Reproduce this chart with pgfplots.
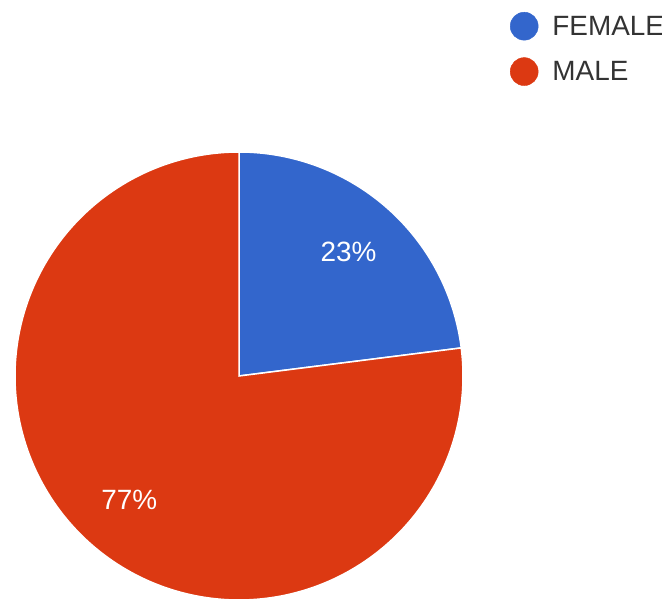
\documentclass[border=0pt]{standalone}
\usepackage{pgfplots}
\pgfplotsset{compat=1.18}
\usepackage{fontspec}
\setmainfont{Liberation Sans}
\definecolor{gblue}{HTML}{3366CC}
\definecolor{gred}{HTML}{DC3912}
\definecolor{gtext}{HTML}{333333}
\def\Female{23}
\def\Male{77}
\begin{document}
\begin{tikzpicture}
\pgfmathsetmacro\cx{239}
\pgfmathsetmacro\cy{223}
\pgfmathsetmacro\R{224}
\pgfmathsetmacro\aA{90}
\pgfmathsetmacro\aB{90-\Female*3.6}
\pgfmathsetmacro\aC{\aB-\Male*3.6}
\pgfmathsetmacro\mA{(\aA+\aB)/2}
\pgfmathsetmacro\mB{(\aB+\aC)/2}
\pgfmathsetmacro\lAx{\cx+0.74*\R*cos(\mA)}
\pgfmathsetmacro\lAy{\cy+0.74*\R*sin(\mA)}
\pgfmathsetmacro\lBx{\cx+0.74*\R*cos(\mB)}
\pgfmathsetmacro\lBy{\cy+0.74*\R*sin(\mB)}
\begin{axis}[hide axis, scale only axis, width=662bp, height=599bp,
  xmin=0, xmax=662, ymin=0, ymax=599, clip=true,
  legend style={at={(axis cs:510,587)}, anchor=north west, draw=none, fill=none,
    inner sep=0pt, outer sep=0pt, row sep=17bp, column sep=14bp,
    font=\fontsize{28}{28}\selectfont, text=gtext,
    nodes={inner sep=0pt}},
  legend cell align=left]
\addlegendimage{legend image code/.code={\fill[gblue] (14bp,0bp) circle (14bp);}}
\addlegendentry{FEMALE}
\addlegendimage{legend image code/.code={\fill[gred] (14bp,0bp) circle (14bp);}}
\addlegendentry{MALE}
\addplot[forget plot, draw=white, line width=1.5bp, fill=gblue, domain=\aA:\aB, samples=120]
  ({\cx+\R*cos(x)},{\cy+\R*sin(x)}) -- (axis cs:\cx,\cy) -- cycle;
\addplot[forget plot, draw=white, line width=1.5bp, fill=gred, domain=\aB:\aC, samples=300]
  ({\cx+\R*cos(x)},{\cy+\R*sin(x)}) -- (axis cs:\cx,\cy) -- cycle;
\node[text=white, font=\fontsize{28}{28}\selectfont] at (axis cs:\lAx,\lAy) {\Female\%};
\node[text=white, font=\fontsize{28}{28}\selectfont] at (axis cs:\lBx,\lBy) {\Male\%};
\end{axis}
\pgfresetboundingbox
\useasboundingbox (current axis.south west) rectangle (current axis.north east);
\end{tikzpicture}
\end{document}
